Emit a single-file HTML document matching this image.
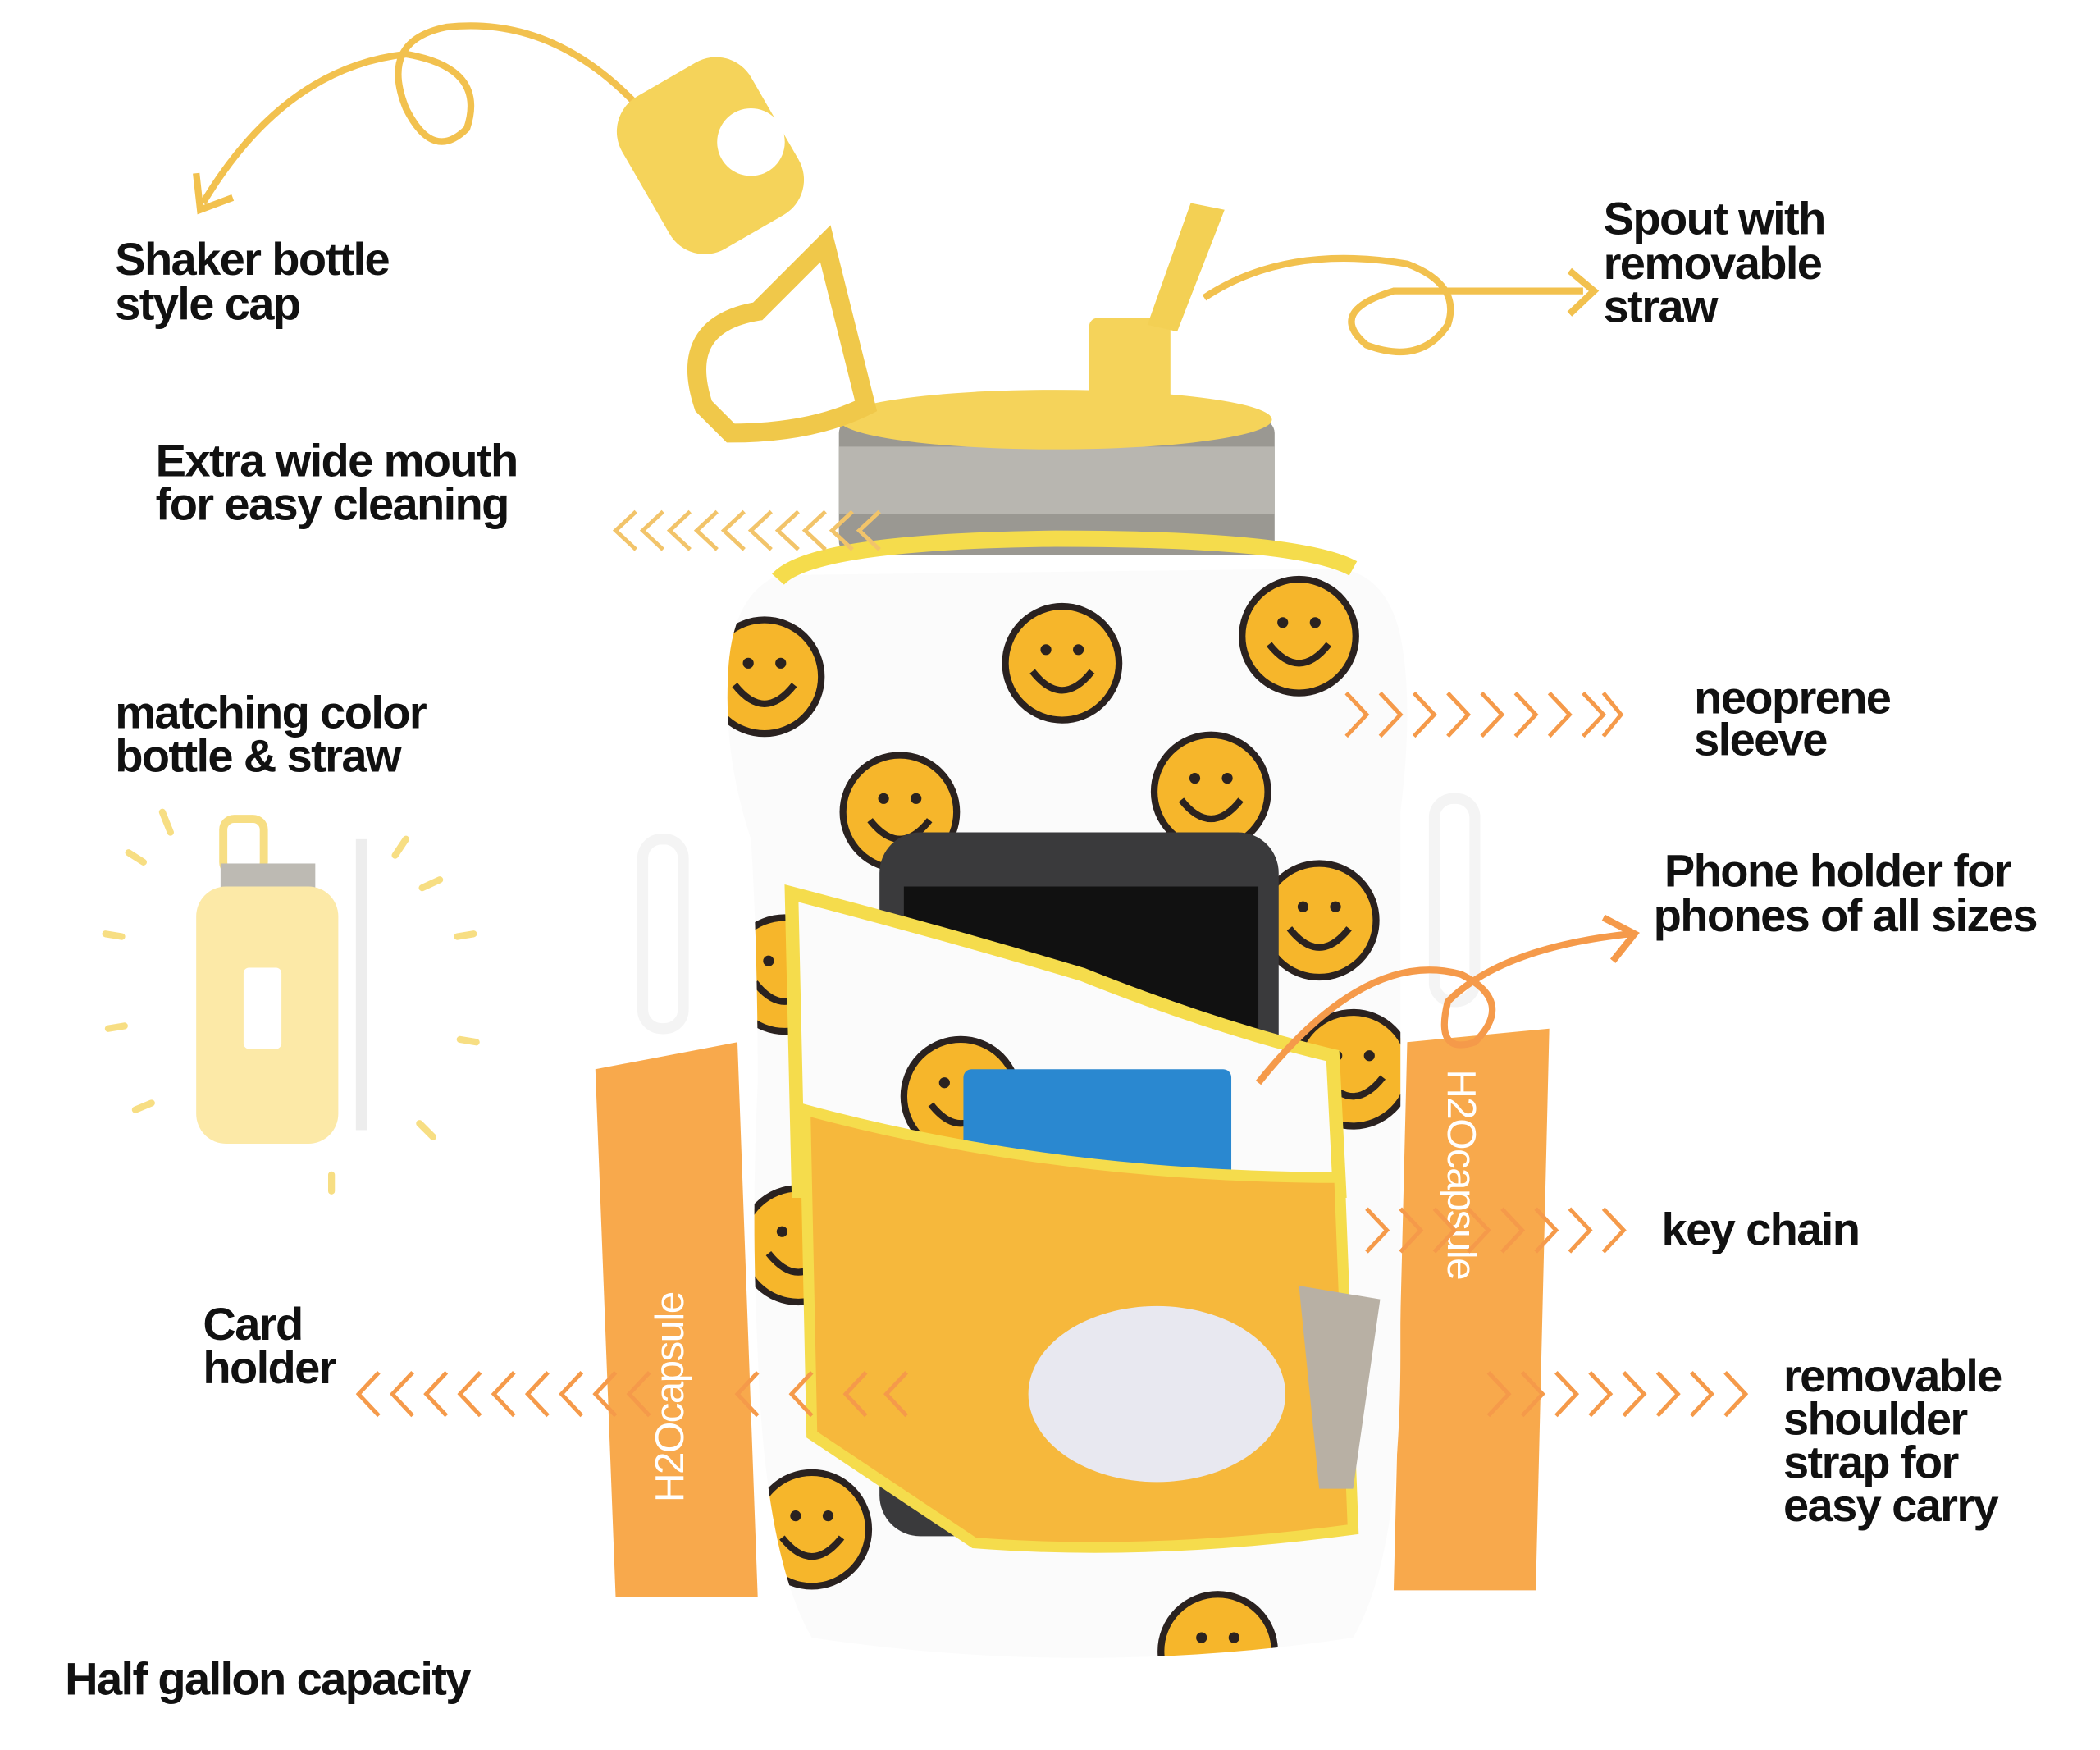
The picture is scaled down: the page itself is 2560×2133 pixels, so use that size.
<!DOCTYPE html>
<html><head><meta charset="utf-8"><style>
html,body{margin:0;padding:0;background:#fff}
svg{display:block}
text{font-family:"Liberation Sans",sans-serif;font-weight:bold;fill:#111;letter-spacing:-1px}
</style></head><body>
<svg width="2560" height="2133" viewBox="0 0 1552 1293" preserveAspectRatio="none">
<defs>
<g id="smile"><circle r="42" fill="#f6b62b" stroke="#2a2220" stroke-width="5"/><circle cx="-12" cy="-10" r="4" fill="#2a2220"/><circle cx="12" cy="-10" r="4" fill="#2a2220"/><path d="M-22 6 Q0 34 22 6" fill="none" stroke="#2a2220" stroke-width="5"/></g>
<clipPath id="sl"><path d="M575 425 Q540 440 538 500 Q535 560 555 620 Q560 700 560 800 Q555 900 560 1000 Q565 1150 600 1210 Q800 1240 1000 1210 Q1035 1150 1035 1000 L1035 600 Q1045 520 1035 470 Q1025 425 990 420 Z"/></clipPath>
</defs>
<path d="M490 100 Q420 10 330 20 Q280 30 300 80 Q320 120 345 95 Q360 50 300 40 Q210 50 150 150" fill="none" stroke="#f2c14e" stroke-width="5"/>
<path d="M145 128 L148 155 L172 146" fill="none" stroke="#f2c14e" stroke-width="5"/>
<path d="M890 220 Q950 180 1040 195 Q1080 210 1070 240 Q1050 270 1010 255 Q980 230 1030 215 L1170 215" fill="none" stroke="#f2c14e" stroke-width="5"/>
<path d="M1160 200 L1178 215 L1160 232" fill="none" stroke="#f2c14e" stroke-width="5"/>
<!-- straps -->
<path d="M440 790 L545 770 L560 1180 L455 1180Z" fill="#f8a94c"/>
<path d="M1040 770 L1145 760 L1135 1175 L1030 1175Z" fill="#f8a94c"/>
<text x="0" y="0" font-size="30" font-weight="normal" transform="translate(505 1110) rotate(-90)" style="fill:#fff;font-weight:normal">H2Ocapsule</text>
<text x="0" y="0" font-size="30" transform="translate(1070 790) rotate(90)" style="fill:#fff;font-weight:normal">H2Ocapsule</text>
<rect x="475" y="620" width="30" height="140" rx="14" fill="none" stroke="#f4f4f4" stroke-width="8"/>
<rect x="1060" y="590" width="30" height="150" rx="14" fill="none" stroke="#f4f4f4" stroke-width="8"/>
<!-- cap -->
<rect x="620" y="310" width="322" height="100" rx="10" fill="#9a9892"/>
<rect x="620" y="330" width="322" height="50" fill="#b8b6b0"/>
<ellipse cx="780" cy="310" rx="160" ry="22" fill="#f5d35a"/>
<rect x="805" y="235" width="60" height="80" rx="6" fill="#f5d35a"/>
<path d="M880 150 L905 155 L870 245 L848 240Z" fill="#f3d054"/>
<path d="M520 300 Q500 240 560 230 L610 180 L640 300 Q600 320 540 320Z" fill="none" stroke="#f0c84a" stroke-width="14"/>
<rect x="470" y="50" width="110" height="130" rx="30" fill="#f5d35a" transform="rotate(-30 525 115)"/>
<circle cx="555" cy="105" r="25" fill="#fff"/>
<!-- sleeve -->
<path d="M575 425 Q540 440 538 500 Q535 560 555 620 Q560 700 560 800 Q555 900 560 1000 Q565 1150 600 1210 Q800 1240 1000 1210 Q1035 1150 1035 1000 L1035 600 Q1045 520 1035 470 Q1025 425 990 420 Z" fill="#fbfbfb"/>
<g clip-path="url(#sl)">
<use href="#smile" x="565" y="500"/><use href="#smile" x="785" y="490"/><use href="#smile" x="960" y="470"/>
<use href="#smile" x="665" y="600"/><use href="#smile" x="895" y="585"/><use href="#smile" x="580" y="720"/>
<use href="#smile" x="975" y="680"/><use href="#smile" x="720" y="810"/><use href="#smile" x="1000" y="790"/>
<use href="#smile" x="590" y="920"/><use href="#smile" x="600" y="1130"/><use href="#smile" x="900" y="1220"/>
</g>
<path d="M575 428 Q600 400 780 398 Q960 398 1000 420" fill="none" stroke="#f5dc4c" stroke-width="12"/>
<rect x="650" y="615" width="295" height="520" rx="30" fill="#3a3a3c"/>
<rect x="668" y="655" width="262" height="300" fill="#111"/>
<path d="M585 660 Q700 690 800 720 Q900 760 985 780 L990 880 L590 880Z" fill="#fbfbfb" stroke="#f5dc4c" stroke-width="10"/>
<use href="#smile" x="710" y="810"/>
<rect x="712" y="790" width="198" height="90" rx="6" fill="#2a88d0"/>
<path d="M595 820 Q780 870 990 870 L1000 1130 Q850 1150 720 1140 L600 1060Z" fill="#f6b83c" stroke="#f5dc4c" stroke-width="8"/>
<ellipse cx="855" cy="1030" rx="95" ry="65" fill="#e8e8f0"/>
<path d="M960 950 L1020 960 L1000 1100 L975 1100Z" fill="#b8b0a4"/>
<g fill="none" stroke-width="3">
<path stroke="#f2c46a" d="M470 378 L455 392 L470 406 M490 378 L475 392 L490 406 M510 378 L495 392 L510 406 M530 378 L515 392 L530 406 M550 378 L535 392 L550 406 M570 378 L555 392 L570 406 M590 378 L575 392 L590 406 M610 378 L595 392 L610 406 M630 378 L615 392 L630 406 M650 378 L635 392 L650 406"/>
<path stroke="#f59a4a" d="M995 512 L1010 528 L995 544 M1020 512 L1035 528 L1020 544 M1045 512 L1060 528 L1045 544 M1070 512 L1085 528 L1070 544 M1095 512 L1110 528 L1095 544 M1120 512 L1135 528 L1120 544 M1145 512 L1160 528 L1145 544 M1170 512 L1185 528 L1170 544 M1185 512 L1198 528 L1185 544"/>
<path stroke="#f59a4a" d="M1010 893 L1025 909 L1010 925 M1035 893 L1050 909 L1035 925 M1060 893 L1075 909 L1060 925 M1085 893 L1100 909 L1085 925 M1110 893 L1125 909 L1110 925 M1135 893 L1150 909 L1135 925 M1160 893 L1175 909 L1160 925 M1185 893 L1200 909 L1185 925"/>
<path stroke="#f59a4a" d="M1100 1014 L1115 1030 L1100 1046 M1125 1014 L1140 1030 L1125 1046 M1150 1014 L1165 1030 L1150 1046 M1175 1014 L1190 1030 L1175 1046 M1200 1014 L1215 1030 L1200 1046 M1225 1014 L1240 1030 L1225 1046 M1250 1014 L1265 1030 L1250 1046 M1275 1014 L1290 1030 L1275 1046"/>
<path stroke="#f59a4a" d="M280 1014 L265 1030 L280 1046 M305 1014 L290 1030 L305 1046 M330 1014 L315 1030 L330 1046 M355 1014 L340 1030 L355 1046 M380 1014 L365 1030 L380 1046 M405 1014 L390 1030 L405 1046 M430 1014 L415 1030 L430 1046 M455 1014 L440 1030 L455 1046 M480 1014 L465 1030 L480 1046 M560 1014 L545 1030 L560 1046 M600 1014 L585 1030 L600 1046 M640 1014 L625 1030 L640 1046 M670 1014 L655 1030 L670 1046"/>
</g>
<path d="M930 800 Q1010 700 1080 720 Q1120 740 1090 770 Q1060 780 1070 740 Q1110 700 1205 690" fill="none" stroke="#f59a4a" stroke-width="5"/>
<path d="M1185 678 L1208 690 L1192 710" fill="none" stroke="#f59a4a" stroke-width="5"/>
<g opacity="0.75">
<rect x="165" y="605" width="30" height="40" rx="8" fill="none" stroke="#f5d35a" stroke-width="6"/>
<rect x="163" y="638" width="70" height="20" fill="#a8a49a"/>
<rect x="145" y="655" width="105" height="190" rx="22" fill="#fbe28a"/>
<rect x="180" y="715" width="28" height="60" rx="4" fill="#fff"/>
<rect x="263" y="620" width="8" height="215" fill="#e8e8e8"/>
<path d="M120 600 L126 615 M95 630 L106 637 M78 690 L90 692 M300 620 L292 632 M325 650 L312 656 M350 690 L338 692 M352 770 L340 768 M320 840 L310 830 M245 880 L245 868 M100 820 L112 815 M80 760 L92 758" stroke="#f5d35a" stroke-width="5" stroke-linecap="round"/>
</g>
<text x="85" y="203" font-size="34">Shaker bottle</text>
<text x="85" y="236" font-size="34">style cap</text>
<text x="1185" y="173" font-size="34">Spout with</text>
<text x="1185" y="206" font-size="34">removable</text>
<text x="1185" y="238" font-size="34">straw</text>
<text x="115" y="352" font-size="34">Extra wide mouth</text>
<text x="115" y="384" font-size="34">for easy cleaning</text>
<text x="85" y="538" font-size="34">matching color</text>
<text x="85" y="570" font-size="34">bottle &amp; straw</text>
<text x="1252" y="527" font-size="34">neoprene</text>
<text x="1252" y="558" font-size="34">sleeve</text>
<text x="1230" y="655" font-size="34">Phone holder for</text>
<text x="1222" y="688" font-size="34">phones of all sizes</text>
<text x="1228" y="920" font-size="34">key chain</text>
<text x="150" y="990" font-size="34">Card</text>
<text x="150" y="1022" font-size="34">holder</text>
<text x="1318" y="1028" font-size="34">removable</text>
<text x="1318" y="1060" font-size="34">shoulder</text>
<text x="1318" y="1092" font-size="34">strap for</text>
<text x="1318" y="1124" font-size="34">easy carry</text>
<text x="48" y="1252" font-size="34">Half gallon capacity</text>
</svg>
</body></html>
